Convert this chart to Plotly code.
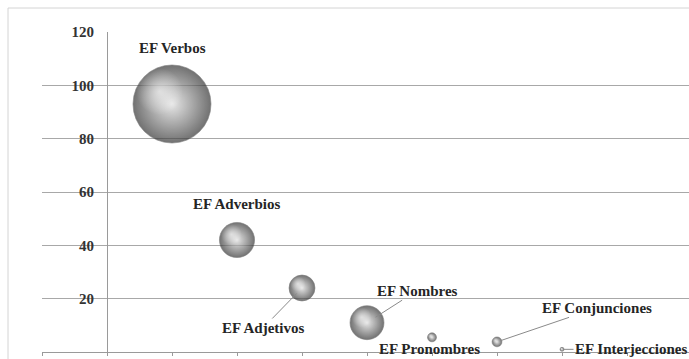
import plotly.graph_objects as go

# ---- data ----
categories = ["EF Verbos", "EF Adverbios", "EF Adjetivos", "EF Nombres",
              "EF Pronombres", "EF Conjunciones", "EF Interjecciones"]
x_vals = [1, 2, 3, 4, 5, 6, 7]
y_vals = [93, 42, 24, 11, 5.5, 3.8, 1]
bubble_vals = [380, 77, 42, 72, 5, 6, 1]
y_ticks = [0, 20, 40, 60, 80, 100, 120]

# label placement (pixel offsets from bubble centre) and leader-line flag
label_dx = [0, 0, -39, 50, -3, 100, 69]
label_dy = [-56, -36, 40, -32, 12, -34, 0]
leader = [False, False, True, True, False, True, True]

W, H = 689, 359
ML, MR, MT, MB = 42, 0, 32, 7
plot_w = W - ML - MR
plot_h = H - MT - MB
x_range = [-1, -1 + plot_w / 65.0]
y_range = [0, 120]

max_diam = 78.0
sizeref = 2.0 * max(bubble_vals) / max_diam ** 2
diams = [(2.0 * v / sizeref) ** 0.5 for v in bubble_vals]

px_per_x = plot_w / (x_range[1] - x_range[0])
px_per_y = plot_h / (y_range[1] - y_range[0])

fig = go.Figure()

# base spheres
fig.add_trace(go.Scatter(
    x=x_vals, y=y_vals, mode="markers",
    marker=dict(size=bubble_vals, sizemode="area", sizeref=sizeref,
                color="#363636",
                gradient=dict(type="radial", color="#dcdcdc"),
                line=dict(color="#4a4a4a", width=0.6)),
    hoverinfo="text", text=categories, showlegend=False,
))

# specular highlight (offset up-left, derived from bubble size)
hx = [x - 0.16 * d / px_per_x for x, d in zip(x_vals, diams)]
hy = [y + 0.16 * d / px_per_y for y, d in zip(y_vals, diams)]
fig.add_trace(go.Scatter(
    x=hx, y=hy, mode="markers",
    marker=dict(size=[d * 0.6 for d in diams], sizemode="diameter",
                color="rgba(255,255,255,0)",
                gradient=dict(type="radial", color="rgba(255,255,255,0.85)"),
                line=dict(width=0)),
    hoverinfo="skip", showlegend=False,
))

for i, name in enumerate(categories):
    r = diams[i] / 2
    fig.add_annotation(
        x=x_vals[i], y=y_vals[i], text=name,
        showarrow=True, ax=label_dx[i], ay=label_dy[i],
        axref="pixel", ayref="pixel",
        arrowhead=0, arrowwidth=1,
        arrowcolor="#8a8a8a" if leader[i] else "rgba(0,0,0,0)",
        standoff=r * 0.6, startstandoff=0,
        font=dict(family="Liberation Serif", size=15, color="#252525", weight="bold"),
    )

fig.update_layout(
    width=W, height=H,
    margin=dict(l=ML, r=MR, t=MT, b=MB),
    paper_bgcolor="white", plot_bgcolor="white",
    xaxis=dict(range=x_range, showgrid=False, zeroline=False,
               showline=True, linecolor="#9a9a9a", linewidth=1,
               ticks="outside", ticklen=3, tickcolor="#9a9a9a",
               tick0=0, dtick=1, showticklabels=False),
    yaxis=dict(range=y_range, tickvals=y_ticks,
               anchor="free", position=(0 - x_range[0]) * px_per_x / plot_w,
               showline=True, linecolor="#9a9a9a", linewidth=1,
               showgrid=True, gridcolor="#a8a8a8", gridwidth=1,
               zeroline=False, ticks="", ticklabelstandoff=10,
               tickfont=dict(family="Liberation Serif", size=15, color="#333333", weight="bold")),
    shapes=[dict(type="rect", xref="paper", yref="paper",
                 x0=(8 - ML) / plot_w, x1=1.2,
                 y0=-0.2, y1=(H - MB - 8) / plot_h,
                 line=dict(color="#d4d4d4", width=1), layer="below")],
    showlegend=False,
)

fig.write_html("out.html")
